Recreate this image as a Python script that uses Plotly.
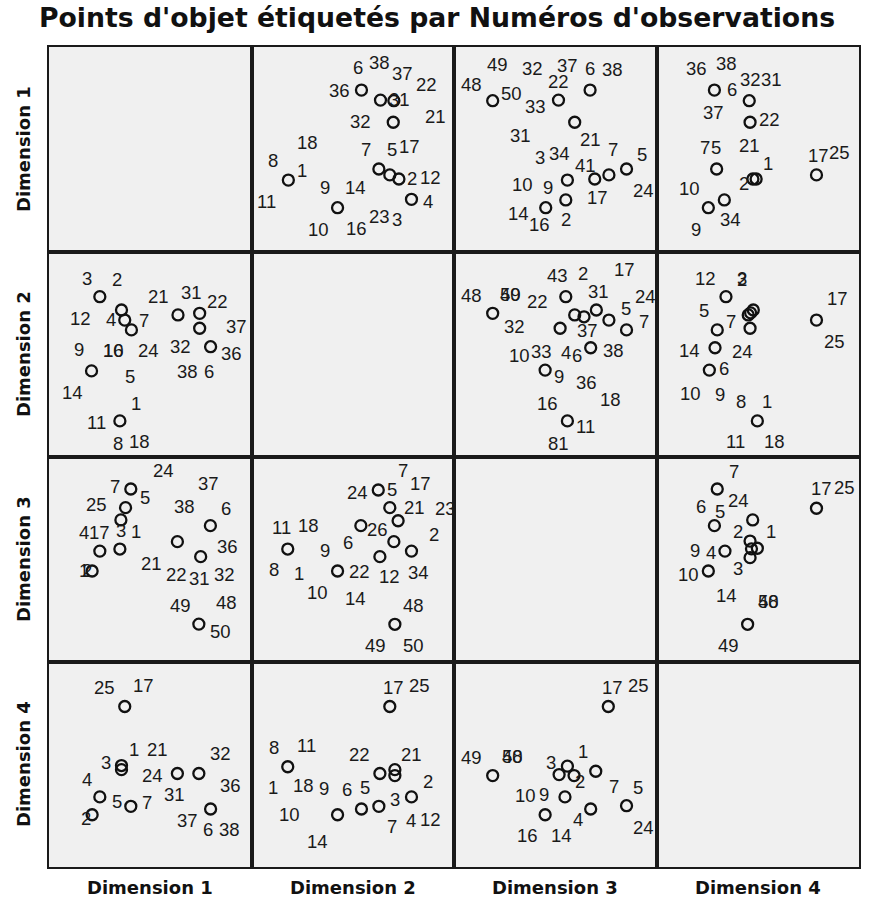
import plotly.graph_objects as go

TITLE = "Points d'objet étiquetés par Numéros d'observations"
DIMS = ["Dimension 1", "Dimension 2", "Dimension 3", "Dimension 4"]

# ---- data: object scores read per panel (x = column dimension, y = row dimension), scaled 0..1 ----
d1_d2_x = [0.543, 0.637, 0.703, 0.700, 0.182, 0.425, 0.629, 0.683, 0.728, 0.790]
d1_d2_y = [0.790, 0.741, 0.738, 0.633, 0.351, 0.216, 0.405, 0.376, 0.356, 0.257]
d1_d2_lab = [["6", "38", "36"], ["37"], ["22", "31"], ["32", "21"], ["18", "8", "1", "11"],
             ["9", "14", "10", "16"], ["7", "5"], ["17"], ["2", "12"], ["4", "23", "3"]]

d1_d3_x = [0.191, 0.516, 0.672, 0.596, 0.560, 0.695, 0.765, 0.852, 0.552, 0.453]
d1_d3_y = [0.738, 0.741, 0.790, 0.633, 0.351, 0.356, 0.376, 0.405, 0.254, 0.216]
d1_d3_lab = [["48", "49", "50"], ["32", "22", "33"], ["37", "6", "38"], ["21", "31"],
             ["3", "34", "10", "9"], ["41", "17"], ["7"], ["5", "24"], ["2"], ["14", "16"]]

d1_d4_x = [0.286, 0.458, 0.462, 0.297, 0.476, 0.492, 0.790, 0.335, 0.256]
d1_d4_y = [0.790, 0.738, 0.633, 0.405, 0.356, 0.356, 0.376, 0.254, 0.216]
d1_d4_lab = [["36", "38", "6"], ["32", "31"], ["37", "22", "21"], ["7", "5"], ["2"], ["1"],
             ["17", "25"], ["34"], ["10", "9"]]

d2_d1_x = [0.251, 0.358, 0.374, 0.407, 0.637, 0.744, 0.744, 0.798, 0.210, 0.350]
d2_d1_y = [0.782, 0.717, 0.668, 0.620, 0.693, 0.701, 0.628, 0.538, 0.420, 0.176]
d2_d1_lab = [["3", "2", "12"], ["4"], [], ["7", "24", "5"], ["21"], ["31", "22"], ["37", "32"],
             ["36", "38", "6"], ["9", "10", "16", "14"], ["1", "11", "8", "18"]]

d2_d3_x = [0.191, 0.552, 0.596, 0.642, 0.703, 0.765, 0.852, 0.524, 0.675, 0.450, 0.560]
d2_d3_y = [0.701, 0.782, 0.693, 0.684, 0.717, 0.668, 0.620, 0.628, 0.533, 0.424, 0.176]
d2_d3_lab = [["48", "49", "50", "32"], ["43", "2", "22"], [], [], ["17", "31"], ["5"], ["7", "24"],
             ["37"], ["4", "6", "38"], ["10", "33", "9", "36"], ["18", "16", "11", "81"]]

d2_d4_x = [0.343, 0.478, 0.453, 0.465, 0.462, 0.300, 0.289, 0.261, 0.790, 0.498]
d2_d4_y = [0.782, 0.717, 0.693, 0.703, 0.628, 0.620, 0.533, 0.424, 0.668, 0.176]
d2_d4_lab = [["12", "3", "2"], [], [], [], ["24"], ["5", "7"], ["14"], ["6", "10", "9"],
             ["17", "25"], ["8", "1", "11", "18"]]

d3_d1_x = [0.404, 0.378, 0.355, 0.251, 0.350, 0.213, 0.634, 0.797, 0.749, 0.740]
d3_d1_y = [0.844, 0.753, 0.693, 0.541, 0.551, 0.444, 0.587, 0.665, 0.514, 0.185]
d3_d1_lab = [["24", "7", "5"], ["25"], ["3", "1"], ["4", "17"], [], ["2", "1"], ["21", "38"],
             ["37", "6"], ["36", "22", "31", "32"], ["49", "48", "50"]]

d3_d2_x = [0.626, 0.683, 0.724, 0.540, 0.703, 0.790, 0.634, 0.425, 0.179, 0.708]
d3_d2_y = [0.839, 0.753, 0.689, 0.665, 0.587, 0.541, 0.514, 0.444, 0.551, 0.184]
d3_d2_lab = [["24", "5", "7"], ["17", "21"], ["23"], ["26", "6"], [], ["2", "34"], ["12"],
             ["22", "9", "10", "14"], ["11", "18", "8", "1"], ["48", "49", "50"]]

d3_d4_x = [0.300, 0.475, 0.286, 0.338, 0.462, 0.498, 0.469, 0.462, 0.256, 0.450, 0.790]
d3_d4_y = [0.844, 0.693, 0.665, 0.541, 0.590, 0.555, 0.552, 0.509, 0.444, 0.184, 0.750]
d3_d4_lab = [["7", "24"], ["1"], ["6", "5"], ["9", "4"], ["2"], [], [], ["3"], ["10", "14"],
             ["50", "48", "49"], ["17", "25"]]

d4_d1_x = [0.374, 0.358, 0.358, 0.634, 0.740, 0.798, 0.251, 0.404, 0.213]
d4_d1_y = [0.783, 0.495, 0.475, 0.456, 0.456, 0.283, 0.342, 0.296, 0.255]
d4_d1_lab = [["25", "17"], ["1", "3"], [], ["21", "24", "31"], ["32"], ["36", "37", "6", "38"],
             ["4", "5"], ["7"], ["2"]]

d4_d2_x = [0.683, 0.179, 0.634, 0.708, 0.708, 0.790, 0.629, 0.543, 0.425]
d4_d2_y = [0.783, 0.489, 0.456, 0.475, 0.446, 0.342, 0.296, 0.283, 0.255]
d4_d2_lab = [["17", "25"], ["8", "11", "1", "18"], ["22"], ["21"], [], ["2", "3", "4", "12"],
             ["7"], ["5", "6"], ["9", "10", "14"]]

d4_d3_x = [0.762, 0.191, 0.560, 0.519, 0.593, 0.700, 0.548, 0.675, 0.852, 0.450]
d4_d3_y = [0.783, 0.446, 0.492, 0.451, 0.446, 0.467, 0.342, 0.283, 0.299, 0.255]
d4_d3_lab = [["17", "25"], ["49", "50", "48"], ["1"], ["3"], ["2"], ["7"], ["10", "9"], ["4"],
             ["5", "24"], ["16", "14"]]

# ---- styling: label offsets in pixels (dx right, dy down) relative to each point ----
OFF = {
    (1, 2): [[(-3, -23), (18, -28), (-22, 0)], [(22, -27)], [(33, -16), (6, -1)], [(-33, -1), (42, -6)],
             [(19, -38), (-15, -20), (14, -10), (-22, 21)], [(-13, -20), (18, -20), (-19, 22), (19, 21)],
             [(-13, -19), (13, -19)], [(20, -28)], [(13, -1), (32, -2)], [(17, 2), (-32, 17), (-14, 20)]],
    (1, 3): [[(-21, -16), (5, -36), (19, -7)], [(-26, -32), (0, -19), (-23, 6)], [(-23, -25), (0, -22), (22, -21)],
             [(16, 17), (-54, 13)], [(-27, -23), (-8, -27), (-45, 4), (-19, 7)], [(-9, -14), (3, 18)],
             [(4, -25)], [(15, -14), (17, 22)], [(0, 20)], [(-27, 6), (-6, 17)]],
    (1, 4): [[(-18, -22), (12, -27), (18, -1)], [(1, -21), (22, -21)], [(-37, -10), (19, -3), (-1, 23)],
             [(-12, -21), (-1, -21)], [(-9, 4)], [(12, -16)], [(2, -19), (23, -22)], [(6, 20)],
             [(-19, -19), (-12, 22)]],
    (2, 1): [[(-13, -18), (17, -17), (-19, 22)], [(-10, 9)], [], [(13, -9), (17, 21), (-1, 47)], [(-19, -18)],
             [(-8, -21), (18, -12)], [(37, -2), (-19, 18)], [(21, 7), (-23, 25), (-2, 25)],
             [(-13, -21), (22, -20), (22, -20), (-19, 22)], [(16, -17), (-23, 2), (-2, 23), (20, 21)]],
    (2, 3): [[(-21, -18), (18, -19), (18, -19), (22, 13)], [(-8, -21), (17, -23), (-28, 5)], [], [],
             [(28, -41), (2, -19)], [(17, -12)], [(17, -8), (19, -33)], [(27, 2)],
             [(-25, 5), (-14, 8), (23, 3)], [(-26, -15), (-4, -19), (14, 6), (41, 12)],
             [(43, -21), (-20, -17), (18, 6), (-9, 23)]],
    (2, 4): [[(-20, -18), (16, -18), (16, -17)], [], [], [], [(-8, 23)], [(-13, -19), (14, -8)], [(-26, 3)],
             [(15, -2), (-19, 23), (11, 24)], [(21, -22), (18, 21)],
             [(-16, -19), (10, -19), (-22, 21), (17, 21)]],
    (3, 1): [[(33, -18), (-16, -2), (14, 9)], [(-29, -3)], [(0, 11), (15, 12)], [(-16, -19), (0, -19)], [],
             [(-5, 0), (-8, 0)], [(-26, 22), (7, -35)], [(-2, -42), (16, -17)],
             [(27, -10), (-24, 18), (-1, 22), (24, 18)], [(-18, -19), (28, -22), (22, 7)]],
    (3, 2): [[(-21, 2), (14, -1), (25, -20)], [(31, -24), (25, 0)], [(47, -12)], [(17, 4), (-13, 17)], [],
             [(23, -17), (7, 21)], [(10, 20)], [(22, 1), (-13, -20), (-20, 22), (18, 28)],
             [(-6, -22), (21, -24), (-14, 20), (11, 24)], [(19, -19), (-19, 21), (19, 21)]],
    (3, 4): [[(17, -17), (21, 12)], [(18, 12)], [(-13, -19), (6, -14)], [(-30, -1), (-14, 1)], [(-12, -10)],
             [], [], [(-12, 11)], [(-20, 4), (18, 25)], [(21, -23), (21, -23), (-19, 21)],
             [(5, -20), (28, -21)]],
    (4, 1): [[(-20, -19), (19, -21)], [(13, -16), (-15, -3)], [], [(-20, -24), (-25, 2), (-3, 21)],
             [(22, -20)], [(20, -23), (-23, 12), (-3, 21), (19, 21)], [(-13, -17), (17, 5)], [(16, -4)],
             [(-6, 4)]],
    (4, 2): [[(4, -19), (30, -21)], [(-14, -19), (19, -21), (-15, 21), (16, 19)], [(-20, -19)], [(17, -15)],
             [], [(17, -15), (-16, 3), (0, 24), (19, 23)], [(13, 20)], [(4, -21), (-14, -19)],
             [(-14, -26), (-48, 0), (-20, 27)]],
    (4, 3): [[(4, -19), (30, -21)], [(-21, -18), (20, -19), (20, -19)], [(16, -15)], [(-8, -12)], [(6, 6)],
             [(18, 15)], [(-39, -1), (-21, -2)], [(-13, 11)], [(11, -18), (17, 22)], [(-18, 21), (16, 21)]],
}

PANELS = {
    (1, 2): (d1_d2_x, d1_d2_y, d1_d2_lab), (1, 3): (d1_d3_x, d1_d3_y, d1_d3_lab),
    (1, 4): (d1_d4_x, d1_d4_y, d1_d4_lab), (2, 1): (d2_d1_x, d2_d1_y, d2_d1_lab),
    (2, 3): (d2_d3_x, d2_d3_y, d2_d3_lab), (2, 4): (d2_d4_x, d2_d4_y, d2_d4_lab),
    (3, 1): (d3_d1_x, d3_d1_y, d3_d1_lab), (3, 2): (d3_d2_x, d3_d2_y, d3_d2_lab),
    (3, 4): (d3_d4_x, d3_d4_y, d3_d4_lab), (4, 1): (d4_d1_x, d4_d1_y, d4_d1_lab),
    (4, 2): (d4_d2_x, d4_d2_y, d4_d2_lab), (4, 3): (d4_d3_x, d4_d3_y, d4_d3_lab),
}

LABEL_FONT = dict(family="Liberation Sans, Arial, sans-serif", size=18.5, color="#1a1a1a")
HEAD_FONT = dict(family="DejaVu Sans, sans-serif", size=18, color="#111111", weight="bold")

fig = go.Figure()
layout = {}
annotations = []

for r in range(1, 5):
    for c in range(1, 5):
        k = (r - 1) * 4 + c
        xa = "xaxis" if k == 1 else f"xaxis{k}"
        ya = "yaxis" if k == 1 else f"yaxis{k}"
        xr = "x" if k == 1 else f"x{k}"
        yr = "y" if k == 1 else f"y{k}"
        axis_common = dict(range=[0, 1], showgrid=False, zeroline=False, showticklabels=False,
                           ticks="", showline=True, mirror=True, linecolor="#1a1a1a", linewidth=2,
                           fixedrange=True)
        layout[xa] = dict(domain=[(c - 1) / 4, c / 4], anchor=yr, **axis_common)
        layout[ya] = dict(domain=[1 - r / 4, 1 - (r - 1) / 4], anchor=xr, **axis_common)
        if (r, c) in PANELS:
            xs, ys, labs = PANELS[(r, c)]
            fig.add_trace(go.Scatter(
                x=xs, y=ys, xaxis=xr, yaxis=yr, mode="markers", showlegend=False, hoverinfo="skip",
                marker=dict(symbol="circle-open", size=11, color="#111111",
                            line=dict(width=2.3, color="#111111"))))
            offs = OFF[(r, c)]
            for px, py, names, po in zip(xs, ys, labs, offs):
                for name, (dx, dy) in zip(names, po):
                    annotations.append(dict(x=px, y=py, xref=xr, yref=yr, text=name, showarrow=False,
                                            xshift=dx, yshift=-dy, font=LABEL_FONT,
                                            xanchor="center", yanchor="middle"))
        else:
            fig.add_trace(go.Scatter(x=[None], y=[None], xaxis=xr, yaxis=yr, mode="markers",
                                     showlegend=False, hoverinfo="skip"))

# dimension headers: bottom and left
for i, name in enumerate(DIMS):
    annotations.append(dict(x=(i + 0.5) / 4, y=0, xref="paper", yref="paper", text=name,
                            showarrow=False, yanchor="top", xanchor="center", yshift=-8,
                            font=HEAD_FONT))
    annotations.append(dict(x=0, y=1 - (i + 0.5) / 4, xref="paper", yref="paper", text=name,
                            showarrow=False, xanchor="right", yanchor="middle", xshift=-13,
                            textangle=-90, font=HEAD_FONT))

fig.update_layout(
    width=872, height=910,
    margin=dict(l=49, r=11, t=47, b=43),
    paper_bgcolor="white", plot_bgcolor="#F0F0F0",
    title=dict(text=TITLE, x=437 / 872, xref="container", xanchor="center", y=1 - 18 / 910,
               yref="container", yanchor="middle",
               font=dict(family="DejaVu Sans, sans-serif", size=26.7, color="#111111", weight="bold")),
    annotations=annotations,
    **layout,
)

# remove the browser's default 8px body margin so the 872x910 figure fills the window exactly
fig.write_html("out.html", config={"displayModeBar": False},
               post_script="document.body.style.margin='0';document.body.style.overflow='hidden';")
